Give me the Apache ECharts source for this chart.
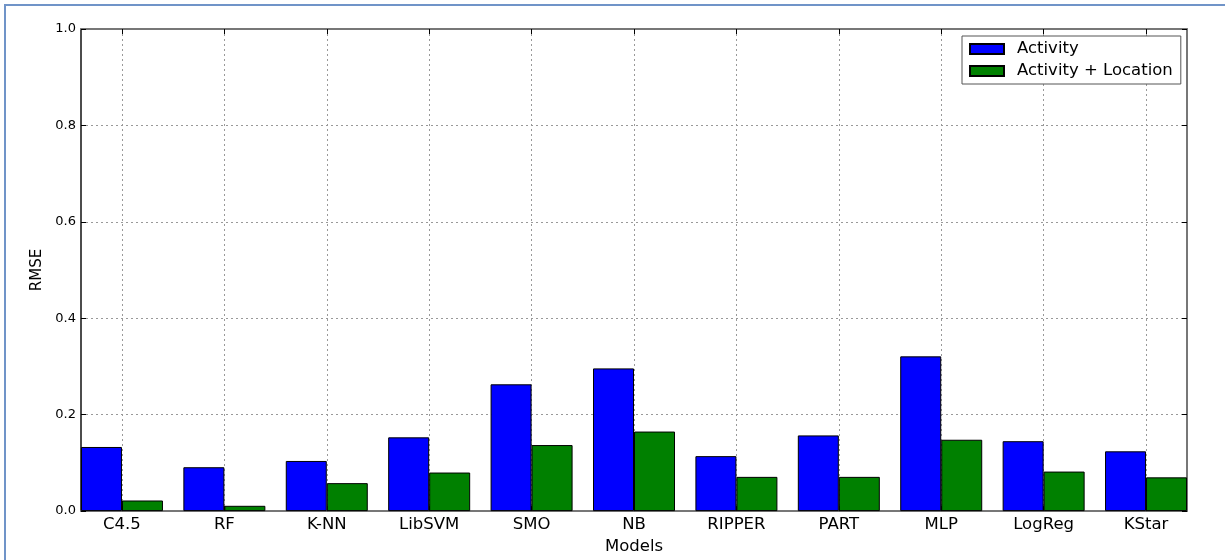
<!DOCTYPE html>
<html><head><meta charset="utf-8">
<script src="https://cdn.jsdelivr.net/npm/echarts@6/dist/echarts.min.js"></script>
<style>html,body{margin:0;padding:0;background:#fff}#c{width:1225px;height:560px}</style>
</head><body><div id="c"></div>
<script>
const categories = ['C4.5','RF','K-NN','LibSVM','SMO','NB','RIPPER','PART','MLP','LogReg','KStar'];
const activity = [0.133,0.091,0.104,0.153,0.263,0.296,0.114,0.157,0.321,0.145,0.124];
const activityLocation = [0.022,0.011,0.058,0.080,0.137,0.165,0.071,0.071,0.148,0.082,0.070];
const seriesNames = ['Activity','Activity + Location'];

const font = 'DejaVu Sans';
const pos = categories.map((c,i)=>i);
const gridLine = {show:true,lineStyle:{color:'#999',type:[2,3],width:1}};
const frameLine = {show:true,onZero:false,lineStyle:{color:'#777',width:2}};
const chart = echarts.init(document.getElementById('c'));
chart.setOption({
  animation:false,
  backgroundColor:'#fff',
  textStyle:{fontFamily:font},
  graphic:[{type:'rect',shape:{x:5,y:5,width:1230,height:570},style:{fill:'none',stroke:'#7094c8',lineWidth:2},silent:true}],
  grid:{left:81,top:29,right:38,bottom:47,show:false},
  legend:{
    orient:'vertical',left:962,top:36,padding:[4,8,4,7],
    backgroundColor:'#fff',borderColor:'#555',borderWidth:1,borderRadius:0,
    itemWidth:34,itemHeight:10,itemGap:4,
    textStyle:{fontSize:16.5,fontFamily:font,color:'#000',lineHeight:18,padding:[0,0,0,8]},
    icon:'rect',
    data:seriesNames
  },
  xAxis:[{
    type:'value',min:-0.4,max:10.4,
    name:'Models',nameLocation:'middle',nameGap:26,
    nameTextStyle:{fontSize:16.5,color:'#000',fontFamily:font},
    axisLine:frameLine,
    axisTick:{show:true,inside:true,length:5,customValues:pos,lineStyle:{color:'#000'}},
    axisLabel:{customValues:pos,fontSize:16.5,color:'#000',margin:5,formatter:v=>categories[Math.round(v)]},
    splitLine:gridLine
  },{
    type:'value',min:-0.4,max:10.4,position:'top',
    axisLine:frameLine,
    axisTick:{show:true,inside:true,length:5,customValues:pos,lineStyle:{color:'#000'}},
    axisLabel:{show:false},splitLine:{show:false}
  }],
  yAxis:[{
    type:'value',min:0,max:1,interval:0.2,
    name:'RMSE',nameLocation:'middle',nameGap:34,
    nameTextStyle:{fontSize:15,color:'#000',fontFamily:font},
    axisLine:{show:true,onZero:false,lineStyle:{color:'#111',width:1.5}},
    axisTick:{show:true,inside:true,length:5,lineStyle:{color:'#000'}},
    axisLabel:{fontSize:13,color:'#000',margin:5,formatter:v=>v.toFixed(1)},
    splitLine:gridLine
  },{
    type:'value',min:0,max:1,interval:0.2,position:'right',
    axisLine:frameLine,
    axisTick:{show:true,inside:true,length:5,lineStyle:{color:'#000'}},
    axisLabel:{show:false},splitLine:{show:false}
  }],
  series:[
    {name:seriesNames[0],type:'bar',barWidth:41,barGap:'0%',
     itemStyle:{color:'#0000ff',borderColor:'#000',borderWidth:1},
     data:activity.map((v,i)=>[pos[i],v])},
    {name:seriesNames[1],type:'bar',barWidth:41,barGap:'0%',
     itemStyle:{color:'#008000',borderColor:'#000',borderWidth:1},
     data:activityLocation.map((v,i)=>[pos[i],v])}
  ]
});
</script></body></html>
